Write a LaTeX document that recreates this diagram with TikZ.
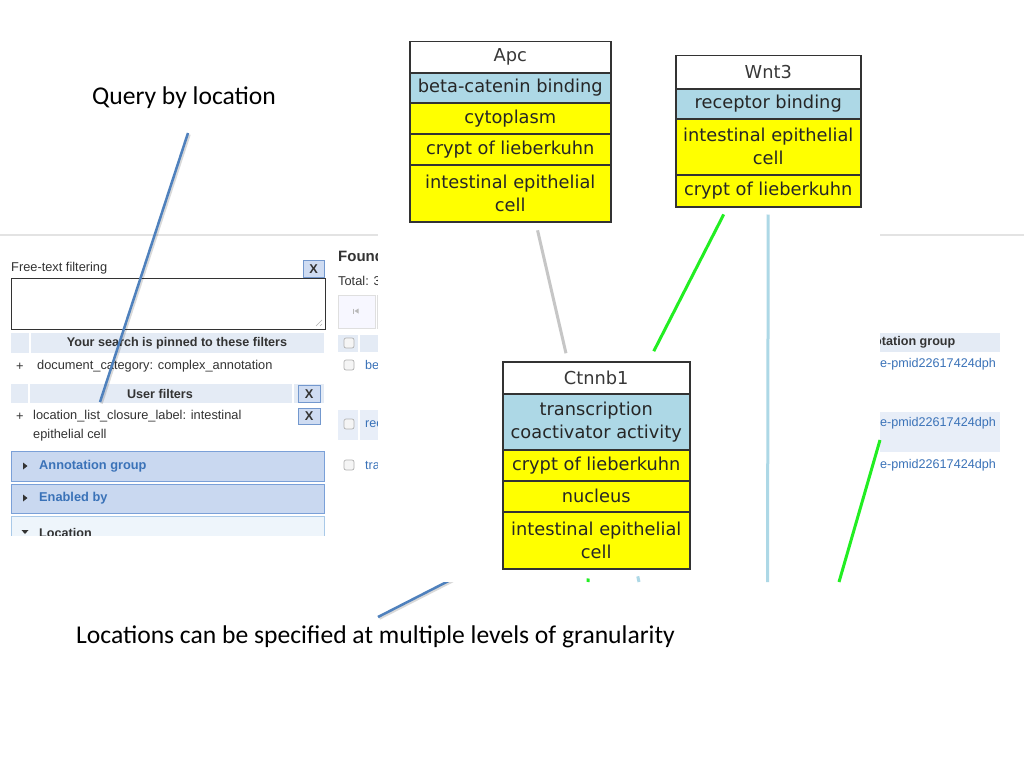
\documentclass[tikz,border=0pt]{standalone}
\usepackage{fontspec}
\setmainfont{Carlito}
\newfontfamily\scr{Liberation Sans}
\newfontfamily\dv{DejaVu Sans}
\definecolor{slideblue}{HTML}{4F81BD}
\definecolor{lblue}{HTML}{ADD8E6}
\definecolor{ylw}{HTML}{FFFF00}
\definecolor{grn}{HTML}{22EE22}
\definecolor{band}{HTML}{E4EBF5}
\definecolor{bandb}{HTML}{E8EEF8}
\definecolor{accfill}{HTML}{C9D8F0}
\definecolor{accdraw}{HTML}{7AA0D8}
\definecolor{locfill}{HTML}{EEF5FB}
\definecolor{locdraw}{HTML}{A9C9E8}
\definecolor{linkblue}{HTML}{3A72B8}
\definecolor{txt}{HTML}{333333}
\definecolor{xfill}{HTML}{CFDCF2}
\definecolor{xdraw}{HTML}{7398CE}
\tikzset{
  cell/.style={draw=black!80, line width=1.5pt, inner sep=0pt, anchor=north west, align=center,
    font=\dv\fontsize{17.8}{23}\selectfont, text=black!85},
  titlecell/.style={cell, fill=white, text=black!78},
  fncell/.style={cell, fill=lblue},
  loccell/.style={cell, fill=ylw},
  grayedge/.style={draw=gray!45, line width=3pt},
  greenedge/.style={draw=grn, line width=3pt},
  lbedge/.style={draw=lblue, line width=3pt},
  callout/.style={draw=slideblue, line width=2.5pt},
  calloutshadow/.style={draw=black, opacity=0.15, line width=2.5pt},
  slidetext/.style={font=\fontsize{25.6}{30}\selectfont, inner sep=0pt},
  sctext/.style={anchor=west, inner sep=0pt, text=txt, font=\scr\fontsize{12.8}{15}\selectfont},
  scbold/.style={inner sep=0pt, text=txt, font=\scr\bfseries\fontsize{12.6}{15}\selectfont},
  linktext/.style={inner sep=0pt, text=linkblue, font=\scr\fontsize{12.6}{15}\selectfont},
  acclabel/.style={anchor=west, inner sep=0pt, text=linkblue, font=\scr\bfseries\fontsize{12.8}{15}\selectfont},
  xbtn/.style={draw=xdraw, fill=xfill, anchor=north west, inner sep=0pt, text=txt,
    font=\scr\bfseries\fontsize{12.8}{15}\selectfont},
  accband/.style={draw=accdraw, fill=accfill, line width=0.8pt},
  chk/.style={draw=gray!60, fill=gray!8, rounded corners=2pt, line width=0.7pt},
}
\begin{document}
\begin{tikzpicture}[x=1pt,y=-1pt]
\useasboundingbox (0,0) rectangle (1024,768);
\fill[white] (0,0) rectangle (1024,768);

% ---------------- screenshot of the web page ----------------
\begin{scope}
\clip (0,228) rectangle (1024,535);
\draw[gray!22, line width=1.2pt] (0,235) -- (1024,235);
% left column
\node[sctext] (ftf) at (11,268) {Free-text filtering};
\node[xbtn, minimum width=21pt, minimum height=17pt] (x1) at (303,260) {X};
\draw[black!80, line width=1pt] (11,278) rectangle (325,329);
\draw[gray!60, line width=0.6pt] (322,320) -- (316,326) (322,324) -- (320,326);
\fill[band] (11,333) rectangle (324,353);
\draw[white, line width=1.5pt] (30,333) -- (30,353);
\node[scbold] (pin) at (177,343) {Your search is pinned to these filters};
\node[sctext] (p1) at (16,367) {+};
\node[sctext] (dc) at (37,366) {document\_category: complex\_annotation};
\fill[band] (11,384) rectangle (324,403);
\draw[white, line width=1.5pt] (29,384) -- (29,403) (293,384) -- (293,403);
\node[scbold] (uf) at (160,394) {User filters};
\node[xbtn, minimum width=22pt, minimum height=17pt] (x2) at (298,385) {X};
\node[sctext] (p2) at (16,417) {+};
\node[sctext] (ll1) at (33,416) {location\_list\_closure\_label: intestinal};
\node[sctext] (ll2) at (33,435) {epithelial cell};
\node[xbtn, minimum width=22pt, minimum height=16pt] (x3) at (298,408) {X};
\draw[accband] (11,451) rectangle (324,481);
\fill[black!80] (23,462.5) -- (27.5,466) -- (23,469.5) -- cycle;
\node[acclabel] (ag) at (39,466) {Annotation group};
\draw[accband] (11,484) rectangle (324,513);
\fill[black!80] (23,494.5) -- (27.5,498) -- (23,501.5) -- cycle;
\node[acclabel] (eb) at (39,498) {Enabled by};
\draw[draw=locdraw, fill=locfill, line width=0.8pt] (11,516) rectangle (324,545);
\fill[black!80] (21.5,530) -- (28.5,530) -- (25,534) -- cycle;
\node[scbold, anchor=west] (lc) at (39,533) {Location};
% middle column
\node[anchor=west, inner sep=0pt, text=txt, font=\scr\bfseries\fontsize{15}{18}\selectfont] (fd) at (338,256) {Found};
\node[sctext] (tot) at (338,281) {Total: 3};
\draw[draw=gray!25, fill=blue!3, line width=0.6pt] (338,295) rectangle (375,328);
\draw[draw=gray!25, fill=blue!3, line width=0.6pt] (377,295) rectangle (400,328);
\draw[gray!55, line width=0.6pt] (353,308.5) -- (353,313.5);
\fill[gray!55] (354.5,311) -- (358.5,308.5) -- (358.5,313.5) -- cycle;
\fill[band] (338,335) rectangle (400,352);
\draw[white, line width=1.5pt] (359,335) -- (359,352);
\draw[chk] (344,338) rectangle (354,348);
\draw[chk] (344,360) rectangle (354,370);
\node[linktext, anchor=west] (be) at (365,365) {be};
\fill[bandb] (338,410) rectangle (400,440);
\draw[white, line width=1.5pt] (359,410) -- (359,440);
\draw[chk] (344,419) rectangle (354,429);
\node[linktext, anchor=west] (re) at (365,424) {rec};
\draw[chk] (344,460) rectangle (354,470);
\node[linktext, anchor=west] (tr) at (365,465) {tra};
% right column
\fill[band] (870,333) rectangle (1000,352);
\node[scbold, anchor=west] (og) at (874,342) {otation group};
\node[linktext, anchor=east] (pm1) at (996,364) {e-pmid22617424dph};
\fill[bandb] (870,412) rectangle (1000,452);
\node[linktext, anchor=east] (pm2) at (996,423) {e-pmid22617424dph};
\node[linktext, anchor=east] (pm3) at (996,465) {e-pmid22617424dph};
\end{scope}

% ---------------- slide texts and callout lines ----------------
\node[slidetext] (q) at (184,98) {Query by location};
\node[slidetext] (loc) at (375.5,637) {Locations can be specified at multiple levels of granularity};
\coordinate (qa) at (188,133);
\coordinate (qb) at (100,402);
\coordinate (la) at (378,617);
\coordinate (lb) at (470,570);
\draw[calloutshadow] ([shift={(1.5,1.5)}]qa) -- ([shift={(1.5,1.5)}]qb);
\draw[callout] (qa) -- (qb);
\draw[calloutshadow] ([shift={(1.5,1.5)}]la) -- ([shift={(1.5,1.5)}]lb);
\draw[callout] (la) -- (lb);

% ---------------- graph overlay ----------------
\fill[white] (378,0) rectangle (880,582);

% Apc
\node[titlecell, minimum width=201pt, minimum height=31pt] (apc0) at (409,41) {Apc};
\node[fncell, minimum width=201pt, minimum height=30pt] (apc1) at (409,72) {beta-catenin binding};
\node[loccell, minimum width=201pt, minimum height=31pt] (apc2) at (409,102) {cytoplasm};
\node[loccell, minimum width=201pt, minimum height=31pt] (apc3) at (409,133) {crypt of lieberkuhn};
\node[loccell, minimum width=201pt, minimum height=57pt] (apc4) at (409,164) {intestinal epithelial\\cell};
% Wnt3
\node[titlecell, minimum width=185pt, minimum height=33pt] (wnt0) at (675,55) {Wnt3};
\node[fncell, minimum width=185pt, minimum height=30pt] (wnt1) at (675,88) {receptor binding};
\node[loccell, minimum width=185pt, minimum height=56pt] (wnt2) at (675,118) {intestinal epithelial\\cell};
\node[loccell, minimum width=185pt, minimum height=32pt] (wnt3) at (675,174) {crypt of lieberkuhn};
% Ctnnb1
\node[titlecell, minimum width=187pt, minimum height=32pt] (c0) at (502,361) {Ctnnb1};
\node[fncell, minimum width=187pt, minimum height=56pt] (c1) at (502,393) {transcription\\coactivator activity};
\node[loccell, minimum width=187pt, minimum height=31pt] (c2) at (502,449) {crypt of lieberkuhn};
\node[loccell, minimum width=187pt, minimum height=31pt] (c3) at (502,480) {nucleus};
\node[loccell, minimum width=187pt, minimum height=57pt] (c4) at (502,511) {intestinal epithelial\\cell};

% edges
\coordinate (gstub) at (588,582);
\coordinate (lbstub) at (639,582);
\coordinate (lbdown) at (767.5,582);
\coordinate (gA) at (880,440);
\coordinate (gB) at (839,582);
\draw[grayedge, shorten <=8pt, shorten >=8pt] ([xshift=25.5pt]apc4.south) -- ([xshift=-28.5pt]c0.north);
\draw[greenedge, shorten <=7.8pt, shorten >=11pt] ([xshift=-41pt]wnt3.south) -- ([xshift=52.5pt]c0.north);
\draw[lbedge, shorten <=7pt] (wnt3.south) -- (lbdown);
\draw[greenedge] (gA) -- (gB);
\draw[greenedge, shorten <=9pt] ([xshift=-7.5pt]c4.south) -- (gstub);
\draw[lbedge, shorten <=7pt] ([xshift=40pt]c4.south) -- (lbstub);
\end{tikzpicture}
\end{document}
